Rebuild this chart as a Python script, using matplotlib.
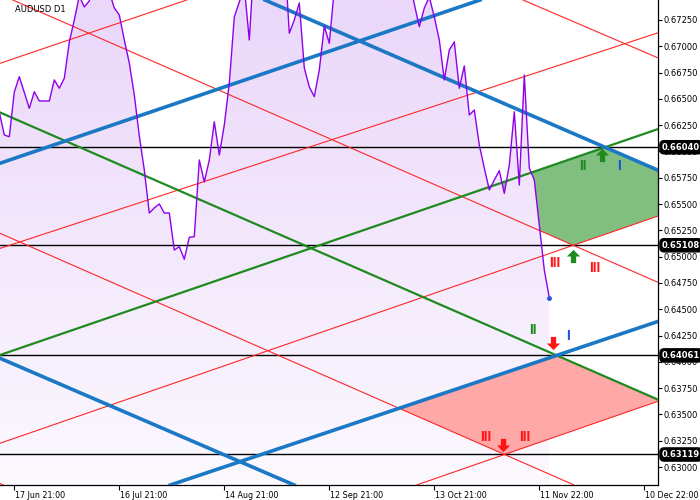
import numpy as np
import matplotlib
matplotlib.use("Agg")
import matplotlib.pyplot as plt
from matplotlib.patches import Polygon
from matplotlib.path import Path
import matplotlib.transforms as mtransforms

plt.rcParams['font.family'] = ['DejaVu Sans']

title = "AUDUSD D1"

# daily closes, bar index -3 .. 107 (bar 0 = 17 Jun)
start_index = -3
close = [
    0.66375, 0.66157, 0.66140, 0.66565, 0.66711, 0.66561, 0.66410, 0.66568, 0.66480, 0.66480,
    0.66480, 0.66680, 0.66601, 0.66696, 0.67041, 0.67250, 0.67478, 0.67374, 0.67431, 0.67678,
    0.67820, 0.67725, 0.67516, 0.67364, 0.67298, 0.67060, 0.66841, 0.66537, 0.66147, 0.65824,
    0.65415, 0.65463, 0.65501, 0.65415, 0.65415, 0.65063, 0.65095, 0.64975, 0.65184, 0.65190,
    0.65919, 0.65710, 0.65919, 0.66283, 0.65966, 0.66252, 0.66648, 0.67279, 0.67421, 0.67564,
    0.67060, 0.67849, 0.68011, 0.68153, 0.68248, 0.68106, 0.68011, 0.67916, 0.67124, 0.67250,
    0.67412, 0.66794, 0.66613, 0.66521, 0.66775, 0.67193, 0.67028, 0.67545, 0.67800, 0.67950,
    0.68100, 0.68300, 0.68500, 0.68700, 0.68900, 0.69100, 0.69000, 0.68700, 0.68400, 0.68200,
    0.68000, 0.67850, 0.67630, 0.67402, 0.67186, 0.67364, 0.67469, 0.67279, 0.67060, 0.66680,
    0.66965, 0.67041, 0.66601, 0.66813, 0.66347, 0.66394, 0.66062, 0.65843, 0.65634, 0.65729,
    0.65817, 0.65602, 0.65871, 0.66378, 0.65681, 0.66727, 0.65843, 0.65729, 0.65301, 0.64873,
    0.64610,
]

date_ticks = [0, 21, 42, 63, 84, 105, 126]
date_labels = ["17 Jun 21:00", "16 Jul 21:00", "14 Aug 21:00", "12 Sep 21:00",
               "13 Oct 21:00", "11 Nov 22:00", "10 Dec 22:00"]
price_ticks = [0.63000, 0.63250, 0.63500, 0.63750, 0.64000, 0.64250, 0.64500, 0.64750,
               0.65000, 0.65250, 0.65500, 0.65750, 0.66000, 0.66250, 0.66500, 0.66750,
               0.67000, 0.67250]
levels = [0.66040, 0.65108, 0.64061, 0.63119]

x_range = (-2.86, 128.74)
y_range = (0.62829, 0.67440)

# trend lines, each given by two anchor points (bar index, price)
blue_B1 = ((-2.86, 0.65888), (93.14, 0.67440))
blue_B2 = ((50.14, 0.67440), (118.14, 0.66040))
blue_B3 = ((45.14, 0.63051), (108.48, 0.64061))
blue_B4 = ((-2.86, 0.64034), (45.14, 0.63051))
green_G1 = ((-2.86, 0.66371), (108.48, 0.64061))
green_G2 = ((-2.86, 0.64065), (118.14, 0.66040))
red_R1 = ((-2.86, 0.66838), (34.48, 0.67440))
red_R2 = ((14.80, 0.67126), (111.80, 0.65108))
red_R3 = ((-2.86, 0.63226), (111.80, 0.65108))
red_R4 = ((-2.86, 0.65078), (128.48, 0.67124))
red_R5 = ((101.74, 0.67440), (128.48, 0.66895))
red_R6 = ((-2.86, 0.65222), (98.04, 0.63119))
red_R7 = ((98.04, 0.63119), (128.48, 0.63621))
red_R8 = ((-2.86, 0.62843), (5.14, 0.62677))

# signal arrows (bar index, price)
up_arrows_x = [117.48, 111.80]
up_arrows_y = [0.65966, 0.65006]
down_arrows_x = [107.68, 97.80]
down_arrows_y = [0.64176, 0.63209]

# wave labels (text, bar index, price, colour)
label_text = ["II", "I", "III", "III", "II", "I", "III", "III"]
label_x = [113.8, 121.0, 108.1, 116.0, 103.7, 110.7, 94.3, 102.0]
label_y = [0.65862, 0.65862, 0.64937, 0.64889, 0.64303, 0.64246, 0.63282, 0.63282]
label_col = ["green", "blue", "red", "red", "green", "blue", "red", "red"]

COL = {"blue": "#1a78c4", "green": "#1f8a1f", "red": "#ff2626", "purple": "#8f00ec"}
TXT = {"blue": "#1f4fe0", "green": "#1f8a1f", "red": "#ff1414"}


def intersect(L1, L2):
    (x1, y1), (x2, y2) = L1
    (x3, y3), (x4, y4) = L2
    m1 = (y2 - y1) / (x2 - x1)
    m2 = (y4 - y3) / (x4 - x3)
    x = (y3 - y1 + m1 * x1 - m2 * x3) / (m1 - m2)
    return (x, y1 + m1 * (x - x1))


fig = plt.figure(figsize=(7, 5), dpi=100)
ax = fig.add_axes([0, 0.03, 658 / 700, 0.97])
ax.set_facecolor("white")

# shaded zones
green_zone = [intersect(green_G2, red_R2), intersect(green_G2, blue_B2),
              intersect(blue_B2, red_R3), intersect(red_R3, red_R2)]
ax.add_patch(Polygon(green_zone, closed=True, facecolor="#80bf80", edgecolor="none", zorder=1))

# gradient area under the price line
xs = np.arange(start_index, start_index + len(close))
ymin, ymax = y_range
verts = [(xs[0], ymin - 0.01)] + list(zip(xs, close)) + [(xs[-1], ymin - 0.01)]
clip = Polygon(verts, closed=True, facecolor="none", edgecolor="none")
ax.add_patch(clip)
g = np.linspace(0, 1, 256)[:, None, None]
top = np.array([234, 215, 249]) / 255.0
bot = np.array([252, 249, 255]) / 255.0
img = top * (1 - g) + bot * g
im = ax.imshow(img, extent=(xs[0], xs[-1], ymin, ymax), aspect="auto",
               origin="upper", zorder=2, interpolation="bilinear")
im.set_clip_path(clip)

red_zone = [intersect(blue_B3, red_R6), intersect(blue_B3, green_G1),
            intersect(green_G1, red_R7), intersect(red_R7, red_R6)]
ax.add_patch(Polygon(red_zone, closed=True, facecolor="#ffa8a8", edgecolor="none", zorder=3))

for lv in levels:
    ax.axhline(lv, color="black", lw=1.0, zorder=4)

for L in [red_R1, red_R2, red_R3, red_R4, red_R5, red_R6, red_R7, red_R8]:
    ax.axline(L[0], L[1], color=COL["red"], lw=0.8, zorder=5)
for L in [green_G1, green_G2]:
    ax.axline(L[0], L[1], color=COL["green"], lw=1.6, zorder=5)
for L in [blue_B1, blue_B2, blue_B3, blue_B4]:
    ax.axline(L[0], L[1], color=COL["blue"], lw=2.6, zorder=5)

ax.plot(xs, close, color=COL["purple"], lw=1.0, zorder=6)
ax.plot([xs[-1]], [close[-1]], "o", color="#2a4fe0", ms=2.5, zorder=7)

up = Path([(0, 0.5), (0.5, 0.0), (0.2, 0.0), (0.2, -0.5), (-0.2, -0.5), (-0.2, 0.0),
           (-0.5, 0.0), (0, 0.5)], closed=True)
down = Path([(0, -0.5), (0.5, 0.0), (0.2, 0.0), (0.2, 0.5), (-0.2, 0.5), (-0.2, 0.0),
             (-0.5, 0.0), (0, -0.5)], closed=True)
ax.plot(up_arrows_x, up_arrows_y, linestyle="none", marker=up, ms=9.5, color="#1f8a1f",
        mec="none", zorder=8)
ax.plot(down_arrows_x, down_arrows_y, linestyle="none", marker=down, ms=9.5, color="#ff1414",
        mec="none", zorder=8)

for t, x, y, c in zip(label_text, label_x, label_y, label_col):
    ax.text(x, y, t, color=TXT[c], fontsize=10, fontweight="bold",
            family=["Liberation Sans", "DejaVu Sans"], ha="center", va="center", zorder=8)

ax.text(15 / 658, 1 - 10 / 485, title, transform=ax.transAxes, fontsize=6,
        ha="left", va="center", color="black", zorder=9)

ax.set_xlim(*x_range)
ax.set_ylim(*y_range)

for s in ["top", "left"]:
    ax.spines[s].set_visible(False)
for s in ["right", "bottom"]:
    ax.spines[s].set_color("black")
    ax.spines[s].set_linewidth(0.9)

ax.yaxis.tick_right()
ax.set_yticks(price_ticks)
ax.set_yticklabels([f"{p:.5f}" for p in price_ticks])
ax.tick_params(axis="y", direction="out", length=3, width=0.8, pad=0.8, labelsize=6,
               colors="black")
ax.set_xticks(date_ticks)
ax.set_xticklabels(date_labels)
ax.tick_params(axis="x", direction="out", length=3.5, width=0.8, pad=0.5, labelsize=5.8,
               colors="black")
offset = mtransforms.ScaledTranslation(1 / 100, 0, fig.dpi_scale_trans)
for lab in ax.get_xticklabels():
    lab.set_ha("left")
    lab.set_transform(lab.get_transform() + offset)

ytrans = mtransforms.blended_transform_factory(ax.transAxes, ax.transData)
for lv in levels:
    ax.text(1.0 + 4 / 658, lv, f"{lv:.5f}", transform=ytrans, color="white", fontsize=6,
            fontweight="bold", ha="left", va="center", clip_on=False, zorder=10,
            bbox=dict(boxstyle="round,pad=0.25,rounding_size=0.5", fc="black", ec="black"))

fig.savefig("out.png", dpi=100)
